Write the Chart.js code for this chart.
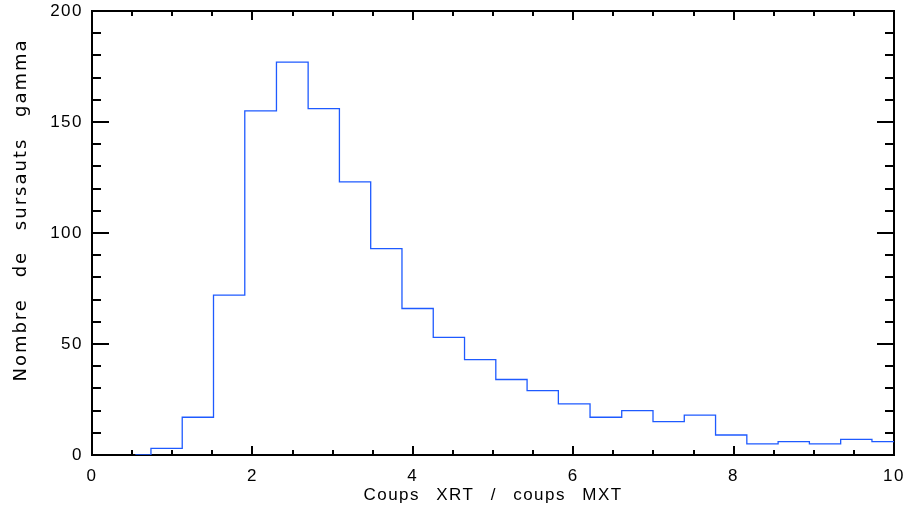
<!DOCTYPE html>
<html>
<head>
<meta charset="utf-8">
<script src="https://cdn.jsdelivr.net/npm/chart.js@4.4.1/dist/chart.umd.min.js"></script>
<style>
  html, body { margin: 0; padding: 0; background: #fff; }
  canvas { display: block; }
</style>
</head>
<body>
<canvas id="histo" width="911" height="516"></canvas>
<script>
// Bin centres of the histogram (ratio XRT / MXT counts)
const BIN_CENTERS = [0.54, 0.93, 1.32, 1.71, 2.10, 2.50, 2.89, 3.28, 3.67, 4.06,
                     4.45, 4.84, 5.23, 5.62, 6.01, 6.41, 6.80, 7.19, 7.58, 7.97,
                     8.36, 8.75, 9.14, 9.53, 9.92];
const BIN_WIDTH = 0.391;
// Number of bursts per bin
const COUNTS = [0, 3, 17, 72, 155, 177, 156, 123, 93, 66,
                53, 43, 34, 29, 23, 17, 20, 15, 18, 9,
                5, 6, 5, 7, 6];

const X_TICKS = [0, 2, 4, 6, 8, 10];
const Y_TICKS = [0, 50, 100, 150, 200];
const X_MINOR = 0.5;
const Y_MINOR = 10;

const X_TITLE = 'Coups XRT / coups MXT';
const Y_TITLE = 'Nombre de sursauts gamma';

const FONT_FAMILY = '"Liberation Sans", Arial, Helvetica, sans-serif';
const TITLE_FAMILY = '"DejaVu Sans", Verdana, sans-serif';
const LINE_COLOR = 'rgb(30, 90, 255)';

// IDL psym=10 style: steps centred on each bin, last half-bin runs out to the edge
const points = BIN_CENTERS.map((c, i) => ({ x: c, y: COUNTS[i] }));
points.push({ x: BIN_CENTERS[BIN_CENTERS.length - 1] + BIN_WIDTH / 2, y: COUNTS[COUNTS.length - 1] });

/**
 * Box frame with inward major/minor ticks on all four sides, plus axis titles
 */
const idlFrame = {
  id: 'idlFrame',
  beforeDraw(chart) {
    chart.ctx.letterSpacing = '1.5px';
  },
  beforeDatasetsDraw(chart) {
    const { ctx, chartArea: a, scales: { x, y } } = chart;
    ctx.save();
    ctx.strokeStyle = '#000';
    ctx.lineWidth = 2;
    ctx.beginPath();

    const xMin = X_TICKS[0], xMax = X_TICKS[X_TICKS.length - 1];
    for (let v = xMin; v <= xMax + 1e-9; v += X_MINOR) {
      const px = Math.round(x.getPixelForValue(v));
      const len = X_TICKS.includes(Math.round(v * 100) / 100) ? 9 : 5;
      ctx.moveTo(px, a.bottom); ctx.lineTo(px, a.bottom - len);
      ctx.moveTo(px, a.top); ctx.lineTo(px, a.top + len);
    }

    const yMin = Y_TICKS[0], yMax = Y_TICKS[Y_TICKS.length - 1];
    for (let v = yMin; v <= yMax + 1e-9; v += Y_MINOR) {
      const py = Math.round(y.getPixelForValue(v));
      const len = Y_TICKS.includes(v) ? 17 : 9;
      ctx.moveTo(a.left, py); ctx.lineTo(a.left + len, py);
      ctx.moveTo(a.right, py); ctx.lineTo(a.right - len, py);
    }
    ctx.stroke();

    ctx.strokeRect(a.left, a.top, a.right - a.left, a.bottom - a.top);
    ctx.restore();
  },
  afterDraw(chart) {
    const { ctx, chartArea: a } = chart;
    ctx.save();
    ctx.fillStyle = '#000';
    ctx.textAlign = 'center';
    ctx.textBaseline = 'middle';

    ctx.font = `17px ${FONT_FAMILY}`;
    ctx.letterSpacing = '1.5px';
    ctx.wordSpacing = '10px';
    ctx.fillText(X_TITLE, (a.left + a.right) / 2, 495);

    ctx.font = `18px ${TITLE_FAMILY}`;
    ctx.letterSpacing = '2px';
    ctx.wordSpacing = '13px';
    ctx.translate(21, 210);
    ctx.rotate(-Math.PI / 2);
    ctx.fillText(Y_TITLE, 0, 0);
    ctx.restore();
  },
};

Chart.defaults.font.family = FONT_FAMILY;
Chart.defaults.font.size = 17;
Chart.defaults.color = '#000';

new Chart(document.getElementById('histo'), {
  type: 'line',
  data: {
    datasets: [{
      data: points,
      stepped: 'middle',
      borderColor: LINE_COLOR,
      borderWidth: 1.3,
      pointRadius: 0,
      fill: false,
    }],
  },
  options: {
    responsive: false,
    animation: false,
    layout: { padding: { top: 11, right: 17, bottom: 0, left: 0 } },
    plugins: {
      legend: { display: false },
      tooltip: { enabled: false },
    },
    scales: {
      x: {
        type: 'linear',
        min: X_TICKS[0],
        max: X_TICKS[X_TICKS.length - 1],
        afterBuildTicks: (axis) => { axis.ticks = X_TICKS.map((v) => ({ value: v })); },
        ticks: { padding: 11, maxRotation: 0, autoSkip: false },
        grid: { display: false, drawTicks: false },
        border: { display: false },
        afterFit: (axis) => {
          axis.height = 61;
          axis.paddingLeft = 0;
          axis.paddingRight = 0;
        },
      },
      y: {
        type: 'linear',
        min: Y_TICKS[0],
        max: Y_TICKS[Y_TICKS.length - 1],
        afterBuildTicks: (axis) => { axis.ticks = Y_TICKS.map((v) => ({ value: v })); },
        ticks: { padding: 9, autoSkip: false },
        grid: { display: false, drawTicks: false },
        border: { display: false },
        afterFit: (axis) => {
          axis.width = 92;
          axis.paddingTop = 0;
          axis.paddingBottom = 0;
        },
      },
    },
  },
  plugins: [idlFrame],
});
</script>
</body>
</html>
